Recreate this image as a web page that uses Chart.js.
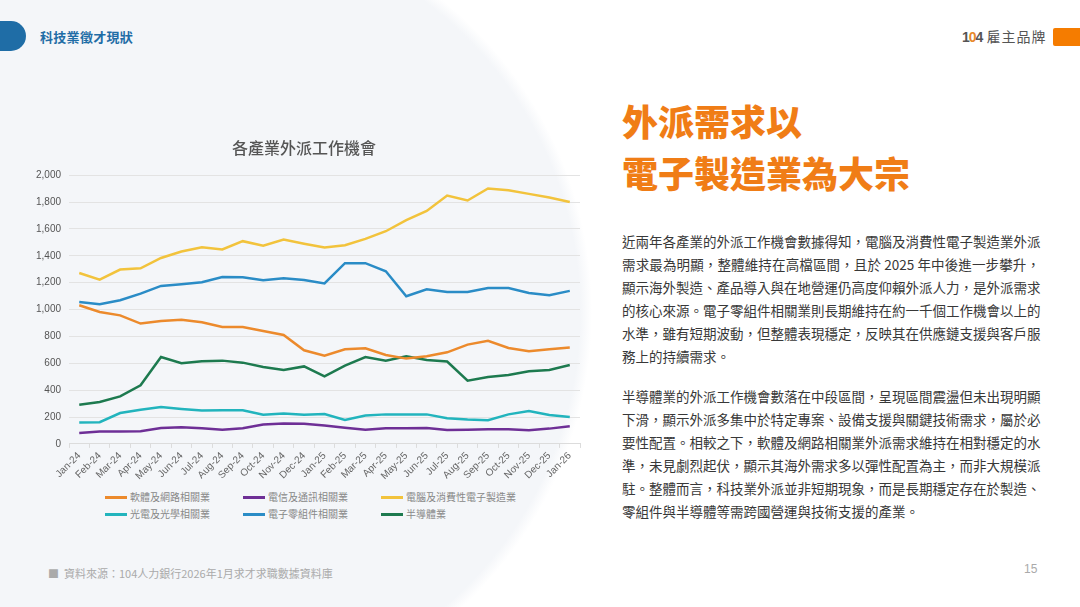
<!DOCTYPE html>
<html lang="zh-Hant">
<head>
<meta charset="utf-8">
<title>科技業徵才現狀</title>
<script src="https://cdn.jsdelivr.net/npm/chart.js"></script>
<style>
  html, body { margin: 0; padding: 0; }
  body {
    width: 1080px; height: 607px; overflow: hidden; position: relative;
    font-family: "Noto Sans CJK TC", "Noto Sans", sans-serif;
    background: radial-gradient(circle at 192px 312px, #f4f6f9 0, #f4f6f9 388px, #ffffff 400px);
  }
  .tab { position: absolute; left: 0; top: 21px; width: 26px; height: 30px; background: #1f6da6; border-radius: 0 15px 15px 0; }
  .section { position: absolute; left: 40px; top: 27px; font-size: 13px; font-weight: 700; color: #1f6da6; letter-spacing: 0.3px; }
  .logo { position: absolute; left: 962px; top: 26px; font-size: 14px; color: #555; letter-spacing: 1px; }
  .logo b { font-family: "Liberation Sans", sans-serif; font-weight: 700; color: #555; letter-spacing: -1px; margin-right: 4px; }
  .logo b span { color: #e8892b; }
  .orange { position: absolute; left: 1053px; top: 28px; width: 27px; height: 18px; background: #f57c00; border-radius: 2px 0 0 2px; }
  #wrap { position: absolute; left: 28px; top: 132px; width: 556px; height: 352px; }
  #legend { position: absolute; left: 105px; top: 489px; width: 420px; }
  .lg { position: absolute; font-size: 10px; color: #888; white-space: nowrap; line-height: 16px; }
  .lg i { display: inline-block; width: 22px; height: 3px; vertical-align: middle; margin-right: 3px; position: relative; top: -1px; }
  h1 { position: absolute; left: 622px; top: 94px; margin: 0; font-size: 36px; line-height: 52px; font-weight: 900; color: #f07d16; }
  .body { position: absolute; left: 622px; width: 418px; font-size: 13.5px; line-height: 23px; color: #383838; }
  .body div { text-align: justify; text-align-last: justify; white-space: nowrap; }
  .body div.last { text-align-last: left; }
  .src { position: absolute; left: 48px; top: 565px; font-size: 11px; color: #aaa; }
  .page { position: absolute; left: 1024px; top: 562px; font-size: 12px; color: #aaa; font-family: "Liberation Sans", sans-serif; }
</style>
</head>
<body>
<div class="tab"></div>
<div class="section">科技業徵才現狀</div>
<div class="logo"><b>1<span>0</span>4</b>雇主品牌</div>
<div class="orange"></div>

<div id="wrap"><canvas id="chart"></canvas></div>
<div id="legend"></div>

<h1>外派需求以<br>電子製造業為大宗</h1>

<div class="body" style="top:230px">
  <div>近兩年各產業的外派工作機會數據得知，電腦及消費性電子製造業外派</div>
  <div>需求最為明顯，整體維持在高檔區間，且於 2025 年中後進一步攀升，</div>
  <div>顯示海外製造、產品導入與在地營運仍高度仰賴外派人力，是外派需求</div>
  <div>的核心來源。電子零組件相關業則長期維持在約一千個工作機會以上的</div>
  <div>水準，雖有短期波動，但整體表現穩定，反映其在供應鏈支援與客戶服</div>
  <div class="last">務上的持續需求。</div>
</div>
<div class="body" style="top:385px">
  <div>半導體業的外派工作機會數落在中段區間，呈現區間震盪但未出現明顯</div>
  <div>下滑，顯示外派多集中於特定專案、設備支援與關鍵技術需求，屬於必</div>
  <div>要性配置。相較之下，軟體及網路相關業外派需求維持在相對穩定的水</div>
  <div>準，未見劇烈起伏，顯示其海外需求多以彈性配置為主，而非大規模派</div>
  <div>駐。整體而言，科技業外派並非短期現象，而是長期穩定存在於製造、</div>
  <div class="last">零組件與半導體等需跨國營運與技術支援的產業。</div>
</div>

<div class="src">■&nbsp; 資料來源：104人力銀行2026年1月求才求職數據資料庫</div>
<div class="page">15</div>

<script>
const months = ['Jan-24','Feb-24','Mar-24','Apr-24','May-24','Jun-24','Jul-24','Aug-24','Sep-24','Oct-24','Nov-24','Dec-24',
                'Jan-25','Feb-25','Mar-25','Apr-25','May-25','Jun-25','Jul-25','Aug-25','Sep-25','Oct-25','Nov-25','Dec-25','Jan-26'];

const software   = [1032, 982, 957, 896, 915, 925, 905, 870, 870, 841, 811, 697, 657, 704, 712, 662, 635, 652, 682, 739, 767, 714, 690, 704, 717];
const telecom    = [81, 92, 92, 95, 118, 124, 116, 106, 116, 144, 153, 150, 138, 121, 106, 116, 116, 119, 104, 106, 109, 109, 101, 114, 131];
const computer   = [1272, 1223, 1298, 1307, 1384, 1432, 1464, 1447, 1509, 1476, 1521, 1490, 1462, 1479, 1526, 1583, 1665, 1734, 1849, 1812, 1901, 1888, 1861, 1834, 1801];
const opto       = [159, 162, 230, 255, 275, 260, 248, 250, 250, 218, 226, 217, 223, 178, 211, 220, 220, 220, 191, 181, 176, 220, 245, 215, 200];
const components = [1057, 1040, 1069, 1119, 1176, 1188, 1203, 1243, 1240, 1218, 1233, 1220, 1194, 1345, 1345, 1285, 1099, 1151, 1131, 1131, 1161, 1161, 1124, 1107, 1139];
const semi       = [292, 312, 354, 436, 647, 600, 615, 620, 605, 573, 550, 577, 503, 583, 647, 620, 652, 625, 613, 471, 498, 513, 541, 550, 588];

const names  = ['軟體及網路相關業', '電信及通訊相關業', '電腦及消費性電子製造業', '光電及光學相關業', '電子零組件相關業', '半導體業'];
const series = [software, telecom, computer, opto, components, semi];
const colors = ['#ec8a2c', '#6e2f96', '#f2c33c', '#22b4bd', '#2a8cc6', '#1d7a4f'];

Chart.defaults.font.family = "'Liberation Sans', 'Noto Sans CJK TC', sans-serif";
Chart.defaults.color = '#666';

new Chart(document.getElementById('chart'), {
    type: 'line',
    data: {
        labels: months,
        datasets: series.map((s, i) => ({
            label: names[i],
            data: s,
            borderColor: colors[i],
            backgroundColor: colors[i],
            borderWidth: 2.5,
            pointRadius: 0,
            tension: 0
        }))
    },
    options: {
        responsive: true,
        maintainAspectRatio: false,
        animation: false,
        layout: { padding: { left: 0, right: 4, top: 0, bottom: 0 } },
        plugins: {
            legend: { display: false },
            tooltip: { enabled: false },
            title: {
                display: true,
                text: '各產業外派工作機會',
                color: '#555',
                font: { family: "'Noto Sans CJK TC', sans-serif", size: 16, weight: '500' },
                padding: { top: 6, bottom: 18 }
            }
        },
        scales: {
            x: {
                offset: true,
                grid: { offset: true, drawOnChartArea: false, drawTicks: true, tickLength: 4, color: '#dcdcdc' },
                border: { display: true, color: '#dcdcdc' },
                ticks: { minRotation: 45, maxRotation: 45, autoSkip: false, font: { size: 10 }, color: '#666', padding: 2 }
            },
            y: {
                min: 0,
                max: 2000,
                ticks: { stepSize: 200, font: { size: 10 }, color: '#555', padding: 8 },
                grid: { color: '#e3e3e3', drawTicks: false },
                border: { display: false }
            }
        }
    }
});

// legend laid out as a 3 x 2 grid like the original
const legend = document.getElementById('legend');
names.forEach((n, i) => {
    const el = document.createElement('div');
    el.className = 'lg';
    el.style.left = (i % 3) * 138 + 'px';
    el.style.top = Math.floor(i / 3) * 17 + 'px';
    el.innerHTML = `<i style="background:${colors[i]}"></i>${n}`;
    legend.appendChild(el);
});
</script>
</body>
</html>
